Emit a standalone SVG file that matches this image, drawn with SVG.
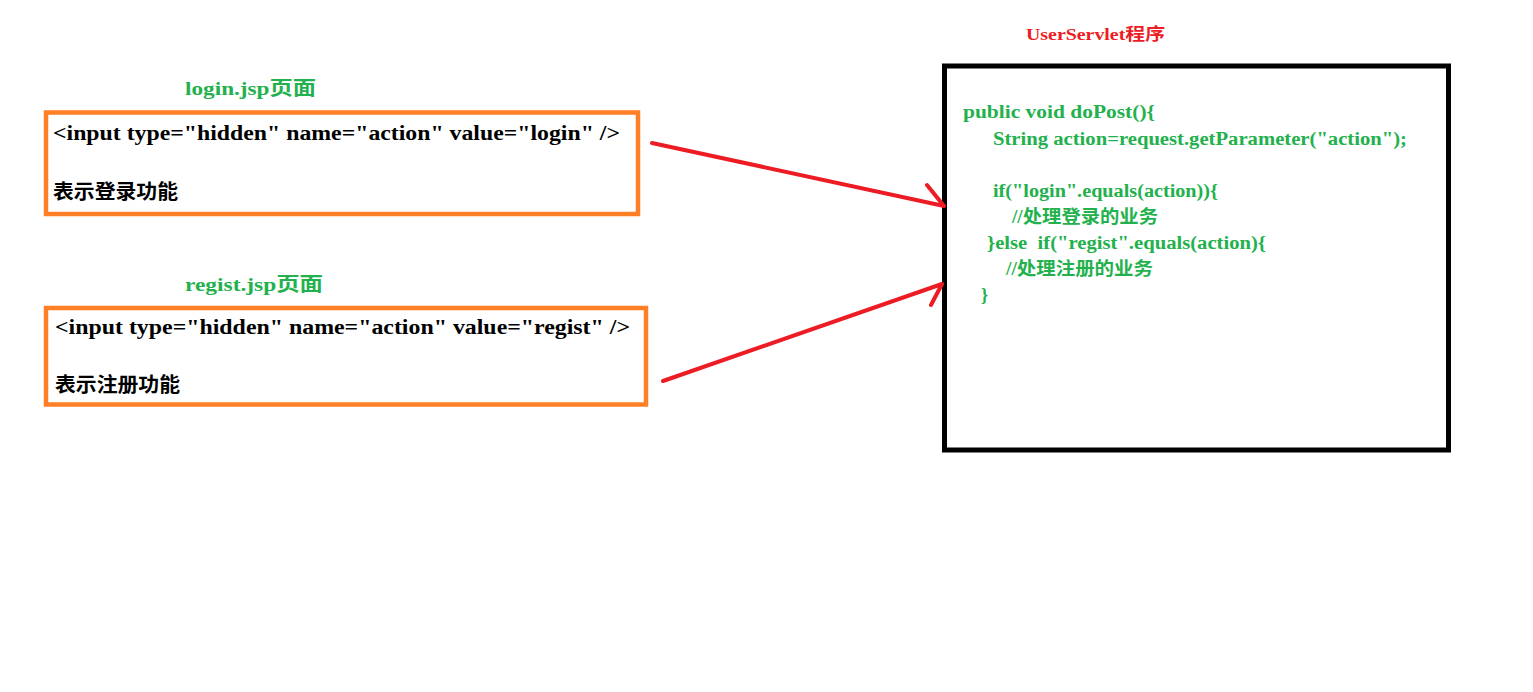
<svg xmlns="http://www.w3.org/2000/svg" width="1533" height="692" viewBox="0 0 1533 692">
<style>
.t{font-family:"Liberation Serif","Noto Sans CJK SC",serif;font-weight:bold;white-space:pre}
.blk{fill:#000;font-size:20px}
.grn{fill:#22b14c;font-size:18px}
.lbl{fill:#22b14c;font-size:19px}
.red{fill:#ed1c24;font-size:17px}
.obox{fill:none;stroke:#ff7f27;stroke-width:4.5}
.bbox{fill:none;stroke:#000;stroke-width:5}
.arr{fill:none;stroke:#ed1c24;stroke-width:4;stroke-linecap:round;stroke-linejoin:round}
</style>
<rect width="1533" height="692" fill="#fff"/>
<g id="login">
<text class="t lbl" x="185" y="95" textLength="131" lengthAdjust="spacingAndGlyphs">login.jsp页面</text>
<rect class="obox" x="46" y="112.5" width="592" height="101.5"/>
<text class="t blk" x="53" y="140" textLength="567" lengthAdjust="spacingAndGlyphs">&lt;input type="hidden" name="action" value="login" /&gt;</text>
<text class="t blk" x="53" y="199" textLength="125" lengthAdjust="spacingAndGlyphs">表示登录功能</text>
</g>
<g id="regist">
<text class="t lbl" x="185" y="291" textLength="138" lengthAdjust="spacingAndGlyphs">regist.jsp页面</text>
<rect class="obox" x="46" y="308" width="600" height="96.5"/>
<text class="t blk" x="55" y="334" textLength="575" lengthAdjust="spacingAndGlyphs">&lt;input type="hidden" name="action" value="regist" /&gt;</text>
<text class="t blk" x="55" y="392" textLength="125" lengthAdjust="spacingAndGlyphs">表示注册功能</text>
</g>
<g id="servlet">
<text class="t red" x="1026" y="40" textLength="139" lengthAdjust="spacingAndGlyphs">UserServlet程序</text>
<rect class="bbox" x="944.5" y="66" width="504" height="384"/>
<text class="t grn" x="963" y="118" textLength="192" lengthAdjust="spacingAndGlyphs">public void doPost(){</text>
<text class="t grn" x="993" y="145" textLength="414" lengthAdjust="spacingAndGlyphs">String action=request.getParameter("action");</text>
<text class="t grn" x="993" y="197" textLength="225" lengthAdjust="spacingAndGlyphs">if("login".equals(action)){</text>
<text class="t grn" x="1012" y="223" textLength="146" lengthAdjust="spacingAndGlyphs">//处理登录的业务</text>
<text class="t grn" x="987" y="249" textLength="279" lengthAdjust="spacingAndGlyphs" xml:space="preserve">}else  if("regist".equals(action){</text>
<text class="t grn" x="1006" y="275" textLength="147" lengthAdjust="spacingAndGlyphs">//处理注册的业务</text>
<text class="t grn" x="981" y="301">}</text>
</g>
<g id="connectors">
<path class="arr" d="M652 143 L944 206 M927 185 L944 206"/>
<path class="arr" d="M663 381 L942 284 M931 305 L942 284"/>
</g>
</svg>
